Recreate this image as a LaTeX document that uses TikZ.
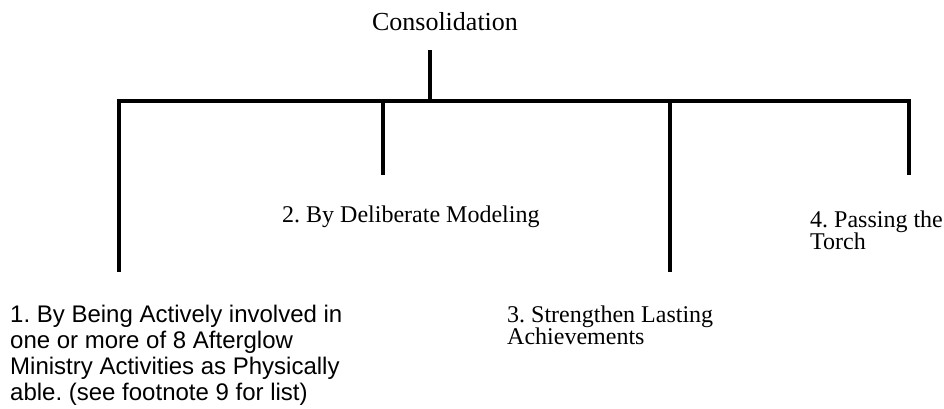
\documentclass[tikz,border=0pt]{standalone}
\usepackage{fontspec}
\setmainfont{Liberation Serif}
\newfontfamily\arialfont{Liberation Sans}
\frenchspacing
\begin{document}
\begin{tikzpicture}[x=1pt,y=-1pt,
  conn/.style={line width=3.6pt, line cap=butt, line join=miter},
  serif/.style={inner sep=0pt, font=\fontsize{24}{22.5}\selectfont, align=left},
  sans/.style={inner sep=0pt, font=\arialfont\fontsize{24}{26}\selectfont, align=left}]
\useasboundingbox (0,0) rectangle (944,409);
% texts
\node[serif, anchor=base, font=\fontsize{26}{28}\selectfont] (cons) at (445,31) {Consolidation};
\node[serif, anchor=base west] (t2) at (282,222) {2. By Deliberate Modeling};
\node[serif, anchor=north west] (t4) at (810,210.6) {4. Passing the\\Torch};
\node[serif, anchor=north west] (t3) at (507,305.6) {3. Strengthen Lasting\\Achievements};
\node[sans, anchor=north west] (t1) at (10,304.8) {1. By Being Actively involved in\\one or more of 8 Afterglow\\Ministry Activities as Physically\\able. (see footnote 9 for list)};
% connector points
\coordinate (stem) at (430,50);
\coordinate (j) at (430,101);
\coordinate (b1) at (119,101);
\coordinate (b2) at (383,101);
\coordinate (b3) at (670,101);
\coordinate (b4) at (909,101);
\coordinate (e1) at (119,272);
\coordinate (e2) at (383,175);
\coordinate (e3) at (670,272);
\coordinate (e4) at (909,175);
\draw[conn] (stem) -- (j);
\draw[conn] (e1) -- (b1) -- (b4) -- (e4);
\draw[conn] (b2) -- (e2);
\draw[conn] (b3) -- (e3);
\end{tikzpicture}
\end{document}
